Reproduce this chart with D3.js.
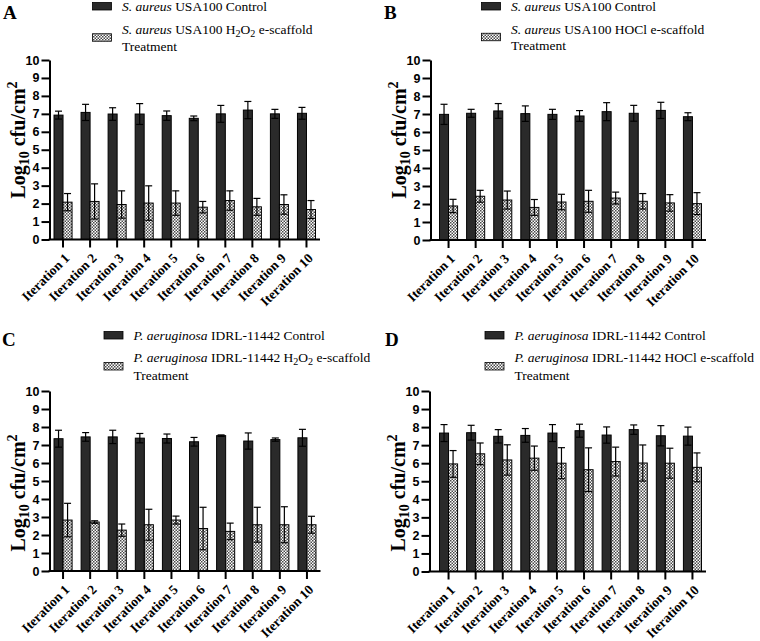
<!DOCTYPE html>
<html><head><meta charset="utf-8">
<script src="https://cdn.jsdelivr.net/npm/d3@7/dist/d3.min.js"></script>
<style>
html,body{margin:0;padding:0;background:#fff;}
svg{display:block;}
</style></head>
<body>
<svg id="chart" width="760" height="641"></svg>
<script>
const categories = ["Iteration 1","Iteration 2","Iteration 3","Iteration 4","Iteration 5","Iteration 6","Iteration 7","Iteration 8","Iteration 9","Iteration 10"];
const yTicks = [0,1,2,3,4,5,6,7,8,9,10];

// Panel A: S. aureus H2O2
const aControl    = [6.93,7.08,6.99,6.99,6.90,6.75,7.00,7.21,7.00,7.03];
const aControlErr = [0.22,0.45,0.35,0.58,0.26,0.13,0.47,0.48,0.25,0.33];
const aTreat      = [2.08,2.12,1.95,2.03,2.03,1.80,2.17,1.82,1.95,1.67];
const aTreatErr   = [0.48,0.98,0.76,0.96,0.68,0.32,0.54,0.47,0.54,0.50];
// Panel B: S. aureus HOCl
const bControl    = [6.98,7.04,7.17,7.02,6.98,6.89,7.13,7.04,7.20,6.85];
const bControlErr = [0.56,0.22,0.41,0.43,0.28,0.30,0.50,0.44,0.45,0.22];
const bTreat      = [1.89,2.43,2.22,1.81,2.11,2.15,2.33,2.15,2.06,2.02];
const bTreatErr   = [0.37,0.33,0.50,0.44,0.43,0.61,0.33,0.43,0.46,0.61];
// Panel C: P. aeruginosa H2O2
const cControl    = [7.35,7.45,7.45,7.38,7.36,7.18,7.52,7.22,7.30,7.40];
const cControlErr = [0.47,0.24,0.37,0.26,0.25,0.24,0.04,0.45,0.09,0.47];
const cTreat      = [2.83,2.72,2.27,2.57,2.83,2.36,2.20,2.57,2.57,2.57];
const cTreatErr   = [0.93,0.07,0.34,0.86,0.22,1.18,0.46,0.97,1.00,0.47];
// Panel D: P. aeruginosa HOCl
const dControl    = [7.67,7.69,7.49,7.54,7.67,7.80,7.56,7.86,7.52,7.50];
const dControlErr = [0.47,0.41,0.37,0.38,0.47,0.36,0.45,0.26,0.56,0.50];
const dTreat      = [5.96,6.52,6.18,6.28,6.00,5.64,6.09,6.01,6.00,5.77];
const dTreatErr   = [0.74,0.60,0.84,0.67,0.86,1.21,0.80,1.00,0.83,0.80];

const panelLetters = ["A","B","C","D"];
const species = ["S. aureus","S. aureus","P. aeruginosa","P. aeruginosa"];
const strains = ["USA100","USA100","IDRL-11442","IDRL-11442"];
const agents  = ["H2O2","HOCl","H2O2","HOCl"];

const layout = [
  {lx:3, ly:19, axisX:49.5, x0:49.5, x1:320, yTop:60, yBot:239.5, legX:92.5, legY1:11, legY2:34, legY3:50.5, titleY:140},
  {lx:384, ly:19, axisX:430.5, x0:435, x1:706, yTop:60, yBot:240, legX:481.5, legY1:11, legY2:34, legY3:49.5, titleY:140},
  {lx:2, ly:346, axisX:49.5, x0:49.5, x1:320.5, yTop:391, yBot:571, legX:104, legY1:340, legY2:362, legY3:380, titleY:493},
  {lx:385, ly:346, axisX:429.5, x0:435, x1:706, yTop:391, yBot:571.5, legX:485, legY1:340, legY2:362, legY3:380, titleY:493}
];
const controls = [aControl,bControl,cControl,dControl];
const controlErrs = [aControlErr,bControlErr,cControlErr,dControlErr];
const treats = [aTreat,bTreat,cTreat,dTreat];
const treatErrs = [aTreatErr,bTreatErr,cTreatErr,dTreatErr];

const svg = d3.select("#chart");
const defs = svg.append("defs");
const pat = defs.append("pattern").attr("id","check").attr("patternUnits","userSpaceOnUse")
  .attr("width",3).attr("height",3);
pat.append("rect").attr("width",3).attr("height",3).attr("fill","#ffffff");
pat.append("rect").attr("x",0).attr("y",0).attr("width",1.5).attr("height",1.5).attr("fill","#4a4a4a");
pat.append("rect").attr("x",1.5).attr("y",1.5).attr("width",1.5).attr("height",1.5).attr("fill","#4a4a4a");

const serif = "Liberation Serif, Times New Roman, serif";
const sans = "Liberation Sans, Arial, sans-serif";
const darkFill = "#2a2a2a";
const legFont = 13.5;

function addAgent(sel, agent){
  const m = agent.match(/^([A-Za-z]+)(\d)([A-Za-z]+)(\d)$/);
  if (m) {
    sel.append("tspan").text(m[1]);
    sel.append("tspan").text(m[2]).attr("font-size","0.75em").attr("dy","0.28em");
    sel.append("tspan").text(m[3]).attr("dy","-0.21em");
    sel.append("tspan").text(m[4]).attr("font-size","0.75em").attr("dy","0.28em");
    return "-0.21em";
  }
  sel.append("tspan").text(agent);
  return null;
}

layout.forEach((p, k) => {
  const g = svg.append("g");
  const y = d3.scaleLinear().domain([0,10]).range([p.yBot, p.yTop]);
  const x = d3.scaleBand().domain(categories).range([p.x0, p.x1]).paddingInner(1/3).paddingOuter(1/6);
  const xs = d3.scaleBand().domain(["control","treat"]).range([0, x.bandwidth()]);
  const control = controls[k], cErr = controlErrs[k], treat = treats[k], tErr = treatErrs[k];

  // panel letter
  g.append("text").attr("x", p.lx).attr("y", p.ly).text(panelLetters[k])
    .attr("font-family", serif).attr("font-weight","bold").attr("font-size",19).attr("fill","#000");

  // legend
  const lg = g.append("g");
  lg.append("rect").attr("x", p.legX).attr("y", p.legY1-8.5).attr("width",19).attr("height",7.5)
    .attr("fill", darkFill).attr("stroke","#000").attr("stroke-width",0.8);
  const t1 = lg.append("text").attr("x", p.legX+29.5).attr("y", p.legY1)
    .attr("font-family", serif).attr("font-size",legFont).attr("fill","#000");
  t1.append("tspan").text(species[k]).attr("font-style","italic");
  t1.append("tspan").text(" " + strains[k] + " Control");
  const midY = (p.legY2 + p.legY3)/2 - 8.5;
  lg.append("rect").attr("x", p.legX).attr("y", midY).attr("width",19).attr("height",7.5)
    .attr("fill","url(#check)").attr("stroke","#000").attr("stroke-width",0.8);
  const t2 = lg.append("text").attr("x", p.legX+29.5).attr("y", p.legY2)
    .attr("font-family", serif).attr("font-size",legFont).attr("fill","#000");
  t2.append("tspan").text(species[k]).attr("font-style","italic");
  t2.append("tspan").text(" " + strains[k] + " ");
  const back = addAgent(t2, agents[k]);
  const tail = t2.append("tspan").text(" e-scaffold");
  if (back) tail.attr("dy", back);
  lg.append("text").attr("x", p.legX+29.5).attr("y", p.legY3)
    .attr("font-family", serif).attr("font-size",legFont).attr("fill","#000").text("Treatment");

  // bars
  const rows = categories.map((c,i) => ({c, i}));
  const bg = g.append("g");
  bg.selectAll("rect.ctl").data(rows).join("rect").attr("class","ctl")
    .attr("x", d => x(d.c) + xs("control")).attr("width", xs.bandwidth())
    .attr("y", d => y(control[d.i])).attr("height", d => y(0) - y(control[d.i]))
    .attr("fill", darkFill).attr("stroke","#000").attr("stroke-width",1);
  bg.selectAll("rect.trt").data(rows).join("rect").attr("class","trt")
    .attr("x", d => x(d.c) + xs("treat")).attr("width", xs.bandwidth())
    .attr("y", d => y(treat[d.i])).attr("height", d => y(0) - y(treat[d.i]))
    .attr("fill", "url(#check)").attr("stroke","#000").attr("stroke-width",1);

  // error bars
  const errs = [];
  rows.forEach(d => {
    errs.push({cx: x(d.c) + xs("control") + xs.bandwidth()/2, m: control[d.i], e: cErr[d.i]});
    errs.push({cx: x(d.c) + xs("treat") + xs.bandwidth()/2, m: treat[d.i], e: tErr[d.i]});
  });
  const eg = g.append("g").attr("stroke","#000").attr("stroke-width",1.2).attr("fill","none");
  errs.forEach(e => {
    const hi = y(e.m + e.e), lo = y(Math.max(0, e.m - e.e));
    eg.append("line").attr("x1", e.cx).attr("x2", e.cx).attr("y1", hi).attr("y2", lo);
    eg.append("line").attr("x1", e.cx-3.5).attr("x2", e.cx+3.5).attr("y1", hi).attr("y2", hi);
    eg.append("line").attr("x1", e.cx-3.5).attr("x2", e.cx+3.5).attr("y1", lo).attr("y2", lo);
  });

  // y axis
  const ya = g.append("g").attr("transform", `translate(${p.axisX},0)`)
    .call(d3.axisLeft(y).tickValues(yTicks).tickSize(8).tickPadding(2).tickSizeOuter(0));
  ya.select(".domain").attr("stroke","#000").attr("stroke-width",2);
  ya.selectAll(".tick line").attr("stroke","#000").attr("stroke-width",2);
  ya.selectAll(".tick text").attr("font-family", sans).attr("font-weight","bold").attr("font-size",12.5).attr("fill","#000");

  // x axis
  const xa = g.append("g").attr("transform", `translate(0,${p.yBot})`)
    .call(d3.axisBottom(x).tickSize(8).tickSizeOuter(0));
  xa.select(".domain").remove();
  xa.append("line").attr("x1", p.axisX-1).attr("x2", p.x1).attr("y1",0).attr("y2",0)
    .attr("stroke","#000").attr("stroke-width",2);
  xa.selectAll(".tick line").attr("stroke","#000").attr("stroke-width",2);
  xa.selectAll(".tick text")
    .attr("font-family", serif).attr("font-weight","bold").attr("font-size",13.5).attr("fill","#000")
    .attr("text-anchor","end").attr("x",0).attr("y",0).attr("dy","0.35em")
    .attr("transform","translate(4,16) rotate(-45)");

  // y title
  const yt = g.append("text")
    .attr("transform", `translate(${p.axisX-24.5},${p.titleY}) rotate(-90)`)
    .attr("text-anchor","middle").attr("font-family", serif).attr("font-weight","bold").attr("font-size",20).attr("fill","#000");
  yt.append("tspan").text("Log");
  yt.append("tspan").text("10").attr("font-size","0.7em").attr("dy","0.3em");
  yt.append("tspan").text(" cfu/cm").attr("dy","-0.21em");
  yt.append("tspan").text("2").attr("font-size","0.7em").attr("dy","-0.55em");
});
</script>
</body></html>
